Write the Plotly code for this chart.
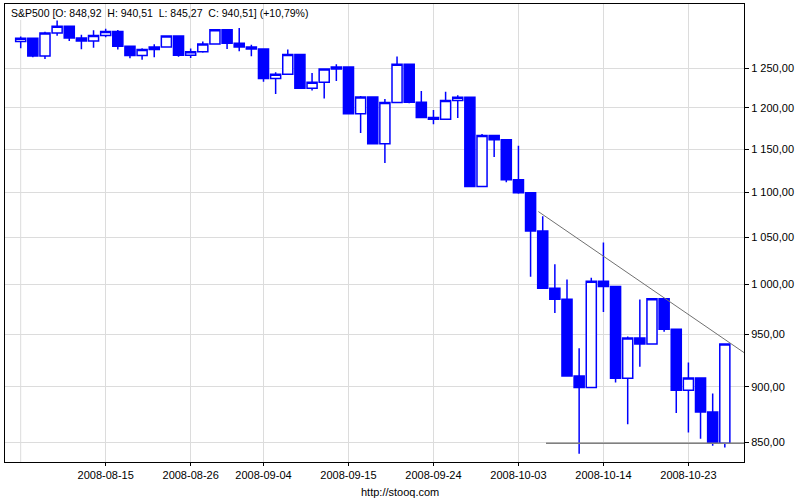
import math
import plotly.graph_objects as go

dates = [
    "2008-08-06", "2008-08-07", "2008-08-08", "2008-08-11", "2008-08-12", "2008-08-13",
    "2008-08-14", "2008-08-15", "2008-08-18", "2008-08-19", "2008-08-20", "2008-08-21",
    "2008-08-22", "2008-08-25", "2008-08-26", "2008-08-27", "2008-08-28", "2008-08-29",
    "2008-09-02", "2008-09-03", "2008-09-04", "2008-09-05", "2008-09-08", "2008-09-09",
    "2008-09-10", "2008-09-11", "2008-09-12", "2008-09-15", "2008-09-16", "2008-09-17",
    "2008-09-18", "2008-09-19", "2008-09-22", "2008-09-23", "2008-09-24", "2008-09-25",
    "2008-09-26", "2008-09-29", "2008-09-30", "2008-10-01", "2008-10-02", "2008-10-03",
    "2008-10-06", "2008-10-07", "2008-10-08", "2008-10-09", "2008-10-10", "2008-10-13",
    "2008-10-14", "2008-10-15", "2008-10-16", "2008-10-17", "2008-10-20", "2008-10-21",
    "2008-10-22", "2008-10-23", "2008-10-24", "2008-10-27", "2008-10-28",
]

open_ = [
    1284.88, 1289.19, 1266.07, 1296.32, 1305.32, 1289.59, 1285.83, 1292.93, 1298.20, 1278.60,
    1266.69, 1274.54, 1277.72, 1292.20, 1266.84, 1271.51, 1281.66, 1300.68, 1282.83, 1277.58,
    1274.98, 1236.83, 1242.31, 1267.79, 1224.51, 1232.04, 1249.05, 1251.70, 1192.70, 1213.60,
    1156.39, 1206.51, 1255.08, 1207.09, 1188.22, 1185.87, 1209.18, 1213.27, 1106.39, 1166.36,
    1161.06, 1114.28, 1099.23, 1056.89, 996.23, 984.94, 909.92, 899.22, 1003.35, 998.01,
    907.84, 946.43, 940.55, 985.40, 955.05, 896.78, 908.11, 876.77, 848.92,
]
high = [
    1291.67, 1289.19, 1297.85, 1313.15, 1305.32, 1294.03, 1300.11, 1302.05, 1300.22, 1278.60,
    1276.01, 1281.40, 1293.09, 1292.20, 1275.65, 1285.05, 1300.68, 1300.68, 1303.04, 1280.60,
    1274.98, 1244.94, 1274.42, 1268.66, 1243.90, 1249.98, 1255.09, 1251.70, 1214.84, 1213.60,
    1211.14, 1265.33, 1255.37, 1221.15, 1197.41, 1220.03, 1215.77, 1213.27, 1168.03, 1167.03,
    1161.06, 1153.82, 1099.23, 1072.91, 1021.06, 1005.25, 936.36, 1006.93, 1044.31, 998.01,
    947.71, 984.64, 985.40, 985.44, 955.05, 922.83, 908.11, 893.78, 940.51,
]
low = [
    1276.00, 1264.29, 1262.11, 1292.76, 1285.64, 1274.86, 1276.84, 1290.74, 1274.51, 1263.11,
    1261.16, 1264.36, 1277.59, 1264.87, 1263.21, 1270.03, 1281.66, 1275.01, 1272.20, 1265.59,
    1232.83, 1217.23, 1242.31, 1224.51, 1221.60, 1211.54, 1233.81, 1192.70, 1169.28, 1155.88,
    1133.50, 1206.51, 1205.61, 1187.06, 1179.79, 1185.87, 1187.54, 1106.39, 1106.39, 1140.77,
    1111.43, 1098.14, 1007.97, 996.23, 970.97, 909.19, 839.80, 899.22, 972.07, 903.99,
    865.83, 918.74, 940.55, 952.47, 875.81, 858.44, 852.85, 846.75, 845.27,
]
close = [
    1289.19, 1266.07, 1296.32, 1305.32, 1289.59, 1285.83, 1292.93, 1298.20, 1278.60, 1266.69,
    1274.54, 1277.72, 1292.20, 1266.84, 1271.51, 1281.66, 1300.68, 1282.83, 1277.58, 1274.98,
    1236.83, 1242.31, 1267.79, 1224.51, 1232.04, 1249.05, 1251.70, 1192.70, 1213.60, 1156.39,
    1206.51, 1255.08, 1207.09, 1188.22, 1185.87, 1209.18, 1213.27, 1106.39, 1166.36, 1161.06,
    1114.28, 1099.23, 1056.89, 996.23, 984.94, 909.92, 899.22, 1003.35, 998.01, 907.84,
    946.43, 940.55, 985.40, 955.05, 896.78, 908.11, 876.77, 848.92, 940.51,
]

unlabeled_grid_date = "2008-08-06"
tick_dates = ["2008-08-15", "2008-08-26", "2008-09-04", "2008-09-15",
              "2008-09-24", "2008-10-03", "2008-10-14", "2008-10-23"]
y_ticks = [850, 900, 950, 1000, 1050, 1100, 1150, 1200, 1250]

# user-drawn trend lines (x in trading-day positions, y in index points)
trend_down_x = [42.64, 61.0]
trend_down_y = [1078.2, 920.9]
support_x = [43.27, 61.0]
support_y = [848.92, 848.92]

header = ("S&P500 [O: 848,92\u00a0 H: 940,51\u00a0 L: 845,27\u00a0 C: 940,51] (+10,79%)")
footer = "http://stooq.com"


def fmt(v):
    s = f"{v:,.2f}"
    return s.replace(",", " ").replace(".", ",")


xs = list(range(len(dates)))
FONT = "Liberation Sans, Arial, sans-serif"
BLUE = "#0000ff"
GRID = "#dcdcdc"

fig = go.Figure()
fig.add_trace(go.Candlestick(
    x=xs, open=open_, high=high, low=low, close=close,
    increasing=dict(line=dict(color=BLUE, width=1.5), fillcolor="#ffffff"),
    decreasing=dict(line=dict(color=BLUE, width=1.5), fillcolor=BLUE),
    whiskerwidth=0, showlegend=False, hoverinfo="skip",
))
fig.add_trace(go.Scatter(x=trend_down_x, y=trend_down_y, mode="lines",
                         line=dict(color="#707070", width=1), showlegend=False, hoverinfo="skip"))
fig.add_trace(go.Scatter(x=support_x, y=support_y, mode="lines",
                         line=dict(color="#808080", width=1.5), showlegend=False, hoverinfo="skip"))

L, R, T, B = 5, 56, 4, 38
W, H = 800, 500
ph = H - T - B
fig.update_layout(
    width=W, height=H,
    margin=dict(l=L, r=R, t=T, b=B, pad=0),
    paper_bgcolor="white", plot_bgcolor="white",
    font=dict(family=FONT, size=11, color="black"),
    boxgap=0.17, boxgroupgap=0,
    showlegend=False,
    xaxis=dict(
        type="linear", range=[-1.293, 59.58],
        tickvals=[dates.index(d) for d in tick_dates], ticktext=tick_dates,
        showgrid=True, gridcolor=GRID, gridwidth=1,
        showline=True, linecolor="black", linewidth=1, mirror=True,
        ticks="outside", ticklen=3, tickcolor="black",
        zeroline=False, rangeslider=dict(visible=False),
        tickfont=dict(family=FONT, size=11, color="black"),
    ),
    yaxis=dict(
        type="log", range=[math.log10(832.7), math.log10(1335.7)],
        side="right",
        tickvals=y_ticks, ticktext=[fmt(v) for v in y_ticks],
        showgrid=True, gridcolor=GRID, gridwidth=1,
        showline=True, linecolor="black", linewidth=1, mirror=True,
        ticks="outside", ticklen=4, tickcolor="black",
        zeroline=False,
        tickfont=dict(family=FONT, size=11, color="black"),
    ),
    shapes=[
        dict(type="line", xref="x", yref="paper",
             x0=dates.index(unlabeled_grid_date), x1=dates.index(unlabeled_grid_date),
             y0=0, y1=1, line=dict(color=GRID, width=1), layer="below"),
        dict(type="rect", xref="paper", yref="paper", x0=0, x1=1,
             y0=1 - 16 / ph, y1=1, fillcolor="white", line=dict(width=0),
             layer="between"),
    ],
    annotations=[
        dict(text=header, xref="paper", yref="paper", x=4 / (W - L - R), y=1 - 9.5 / ph,
             xanchor="left", yanchor="middle", showarrow=False,
             font=dict(family=FONT, size=10.5, color="black")),
        dict(text=footer, xref="paper", yref="paper", x=(400 - L) / (W - L - R),
             y=1 - (492 - T) / ph, xanchor="center", yanchor="middle", showarrow=False,
             font=dict(family=FONT, size=11, color="black")),
    ],
)

fig.write_html("out.html", config={"displayModeBar": False},
               post_script="document.body.style.margin='0';")
